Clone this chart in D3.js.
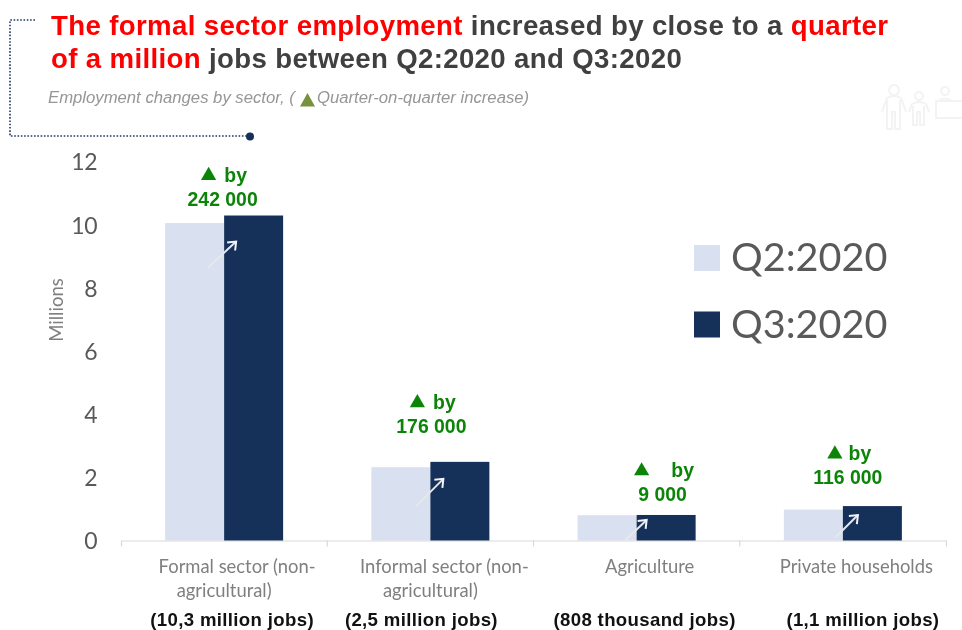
<!DOCTYPE html>
<html>
  <head>
    <meta charset="utf-8">
    <script src="https://d3js.org/d3.v7.min.js"></script>
    <style>
      html, body { margin: 0; padding: 0; background: #fff; }
      svg { display: block; filter: blur(0.45px); }
      .head { font-family: "Liberation Sans", Arial, sans-serif; font-weight: bold; font-size: 27.6px; letter-spacing: 0.36px; }
      .cat { font-family: Lato, sans-serif; font-size: 18.4px; fill: #7f7f7f; }
      .jobs { font-family: "Liberation Sans", Arial, sans-serif; font-weight: bold; font-size: 18.6px; letter-spacing: 0.35px; fill: #111; }
      .up { font-family: "Liberation Sans", Arial, sans-serif; font-weight: bold; font-size: 19.4px; fill: #0b8408; }
    </style>
  </head>
  <body>
    <script type="text/javascript">
      var categories = ["Formal", "Informal", "Agriculture", "Private"];
      var q2 = [10.05, 2.32, 0.80, 0.98];
      var q3 = [10.29, 2.49, 0.808, 1.09];
      var seriesNames = ["Q2:2020", "Q3:2020"];
      var seriesColors = ["#d9e0ef", "#15315a"];
      var increases = ["242 000", "176 000", "9 000", "116 000"];
      var catLine1 = ["Formal sector (non-", "Informal sector (non-", "Agriculture", "Private households"];
      var catLine2 = ["agricultural)", "agricultural)", "", ""];
      var jobs = ["(10,3 million jobs)", "(2,5 million jobs)", "(808 thousand jobs)", "(1,1 million jobs)"];
      var yTicks = [0, 2, 4, 6, 8, 10, 12];

      var width = 962, height = 630;
      var svg = d3.select("body").append("svg").attr("width", width).attr("height", height);

      var x = d3.scaleBand().domain(categories).range([121, 946]);
      var y = d3.scaleLinear().domain([0, 12]).range([540.5, 161.5]);
      var barW = 59;

      /* header */
      var t1 = svg.append("text").attr("class", "head").attr("x", 51).attr("y", 35);
      t1.append("tspan").attr("fill", "#ff0000").text("The formal sector employment");
      t1.append("tspan").attr("fill", "#404040").text(" increased by close to a ");
      t1.append("tspan").attr("fill", "#ff0000").text("quarter");
      var t2 = svg.append("text").attr("class", "head").attr("x", 51).attr("y", 68);
      t2.append("tspan").attr("fill", "#ff0000").text("of a million");
      t2.append("tspan").attr("fill", "#404040").text(" jobs between Q2:2020 and Q3:2020");

      var sub = { "font-family": "Liberation Sans, Arial, sans-serif", "font-style": "italic", "font-size": "16.7px", "fill": "#969696" };
      var s1 = svg.append("text").attr("x", 48).attr("y", 103).text("Employment changes by sector, (");
      var s2 = svg.append("text").attr("x", 317).attr("y", 103).text("Quarter-on-quarter increase)");
      [s1, s2].forEach(function (s) { for (var k in sub) s.style(k, sub[k]); });
      svg.append("path").attr("d", "M300,106.5L307.5,93L315,106.5Z").attr("fill", "#76923c");

      /* dotted bracket */
      svg.append("path")
        .attr("d", "M35,20H10V136H250")
        .attr("fill", "none")
        .attr("stroke", "#1f3864")
        .attr("stroke-width", 1.6)
        .attr("stroke-dasharray", "1.6 1.7");
      svg.append("circle").attr("cx", 250).attr("cy", 136.5).attr("r", 4).attr("fill", "#15315a");

      /* faint people icon */
      var icon = svg.append("g").attr("fill", "none").attr("stroke", "#f3f3f3").attr("stroke-width", 2);
      icon.append("path").attr("d", "M894,95a5,5 0 1,1 0.1,0ZM882,112l5,-14q7,-4 14,0l5,14M887,100v29h5v-17h3v17h5v-29");
      icon.append("path").attr("d", "M919,100a4,4 0 1,1 0.1,0ZM909,112l3,-8q7,-4 14,0l3,8M913,106v19h4v-13h3v13h4v-19");
      icon.append("path").attr("d", "M945,95a4,4 0 1,1 0.1,0ZM938,101q7,-5 14,0M935,101h27M936,101v17h26");

      /* axes */
      var yAxis = d3.axisLeft(y).tickValues(yTicks).tickSize(0).tickPadding(0);
      var gy = svg.append("g").attr("transform", "translate(97,1)").call(yAxis);
      gy.select(".domain").remove();
      gy.selectAll("text")
        .style("font-family", "Lato, sans-serif")
        .style("font-size", "23px")
        .style("letter-spacing", "-0.5px")
        .style("fill", "#595959");

      svg.append("text")
        .attr("transform", "translate(63,310) rotate(-90)")
        .attr("text-anchor", "middle")
        .style("font-family", "Lato, sans-serif")
        .style("font-size", "18.5px")
        .style("fill", "#7f7f7f")
        .text("Millions");

      var xAxis = d3.axisBottom(x).tickValues([]).tickSizeOuter(6);
      var gx = svg.append("g").attr("transform", "translate(0," + y(0) + ")").call(xAxis);
      gx.select(".domain").attr("stroke", "#d9d9d9").attr("stroke-width", 1.2);
      gx.selectAll(".sep")
        .data(categories.slice(1))
        .enter().append("line")
        .attr("x1", function (d) { return x(d); })
        .attr("x2", function (d) { return x(d); })
        .attr("y2", 6)
        .attr("stroke", "#d9d9d9")
        .attr("stroke-width", 1.2);

      /* bars */
      var centre = function (i) { return x(categories[i]) + x.bandwidth() / 2; };
      [q2, q3].forEach(function (vals, s) {
        svg.append("g").selectAll("rect")
          .data(vals)
          .enter().append("rect")
          .attr("x", function (d, i) { return centre(i) - barW + s * barW; })
          .attr("y", function (d) { return y(d); })
          .attr("width", barW)
          .attr("height", function (d) { return y(0) - y(d); })
          .attr("fill", seriesColors[s]);
      });

      /* little arrows across the bars */
      var arrowTip = [[12, 26], [13, 17], [10, 5], [15, 9]];
      var arrowLen = [[28, 26], [27, 27], [22, 21], [22, 22]];
      var arrows = svg.append("g").attr("fill", "none").attr("stroke-width", 2);
      categories.forEach(function (c, i) {
        var tx = centre(i) + arrowTip[i][0], ty = y(q3[i]) + arrowTip[i][1];
        arrows.append("path")
          .attr("d", "M" + (tx - arrowLen[i][0]) + "," + (ty + arrowLen[i][1]) + "L" + tx + "," + ty)
          .attr("stroke", "#e6e8ec");
        arrows.append("path")
          .attr("d", "M" + (tx - 9) + "," + (ty + 1) + "L" + tx + "," + ty + "L" + (tx - 1) + "," + (ty + 9))
          .attr("stroke", "#f2f4f8");
      });

      /* increase labels */
      var labelDx = [-1.5, 1, 26, 5];
      var labelRise = [10, 29, 14, 22];
      var byDx = [13, 13, 20, 12];
      var triDx = [-14, -14, -21, -13];
      categories.forEach(function (c, i) {
        var cx = centre(i) + labelDx[i], base = y(q3[i]) - labelRise[i];
        svg.append("text").attr("class", "up")
          .attr("x", cx).attr("y", base).attr("text-anchor", "middle").text(increases[i]);
        svg.append("text").attr("class", "up")
          .attr("x", cx + byDx[i]).attr("y", base - 24).attr("text-anchor", "middle").text("by");
        svg.append("path")
          .attr("d", d3.symbol(d3.symbolTriangle, 100))
          .attr("transform", "translate(" + (cx + triDx[i]) + "," + (base - 30) + ")")
          .attr("fill", "#0b8408");
      });

      /* category labels */
      var line1Dx = [13, 14, 13, 13.5];
      var jobsDx = [8, -9, 8, 20];
      categories.forEach(function (c, i) {
        svg.append("text").attr("class", "cat")
          .attr("x", centre(i) + line1Dx[i]).attr("y", 572.5)
          .attr("text-anchor", "middle").text(catLine1[i]);
        if (catLine2[i]) {
          svg.append("text").attr("class", "cat")
            .attr("x", centre(i)).attr("y", 597)
            .attr("text-anchor", "middle").text(catLine2[i]);
        }
        svg.append("text").attr("class", "jobs")
          .attr("x", centre(i) + jobsDx[i]).attr("y", 626)
          .attr("text-anchor", "middle").text(jobs[i]);
      });

      /* legend */
      var legend = svg.append("g");
      seriesNames.forEach(function (name, i) {
        var ly = 258 + i * 66.5;
        legend.append("rect")
          .attr("x", 694).attr("y", ly - 13).attr("width", 26).attr("height", 26)
          .attr("fill", seriesColors[i]);
        legend.append("text")
          .attr("x", 731).attr("y", ly + 13)
          .style("font-family", "Lato, sans-serif")
          .style("font-size", "39.6px")
          .style("fill", "#595959")
          .text(name);
      });
    </script>
  </body>
</html>
